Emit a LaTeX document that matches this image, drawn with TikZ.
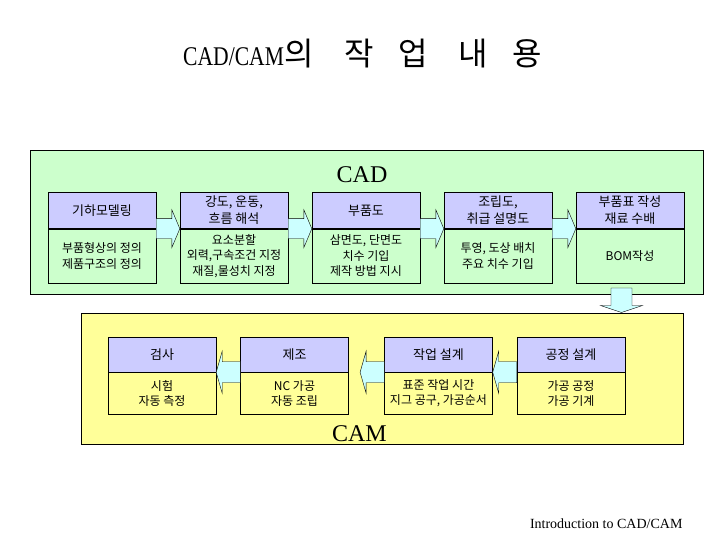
\documentclass[tikz,border=0pt]{standalone}
\usepackage{graphicx}
\usepackage{fontspec}
\setmainfont{Liberation Serif}
\newfontfamily\kr{Noto Sans CJK KR}
\newfontfamily\krtitle[LetterSpace=75]{Noto Sans CJK KR}
\usetikzlibrary{positioning,calc}
\definecolor{cadgreen}{RGB}{204,255,204}
\definecolor{camyellow}{RGB}{255,255,153}
\definecolor{hdrblue}{RGB}{204,204,255}
\definecolor{arrcyan}{RGB}{204,255,255}
\newcommand\blockarrow[5]{% tail, tip, head length, body half, head half
  \coordinate (hb) at ($(#2)!#3!(#1)$);
  \draw[blockarr] ($(#1)!#4!90:(#2)$) -- ($(hb)!#4!90:(#2)$) -- ($(hb)!#5!90:(#2)$) -- (#2)
    -- ($(hb)!#5!-90:(#2)$) -- ($(hb)!#4!-90:(#2)$) -- ($(#1)!#4!-90:(#2)$) -- cycle;
}

\begin{document}
\begin{tikzpicture}[x=1pt, y=-1pt,
  panel/.style = {draw, line width=1pt, anchor=north west},
  hdr/.style = {draw, fill=hdrblue, minimum width=108pt, minimum height=36pt, inner sep=1pt,
    align=center, font=\kr\fontsize{13}{17}\selectfont},
  det/.style = {draw, fill=#1, minimum width=108pt, inner sep=1pt, align=center,
    font=\kr\fontsize{12}{15.5}\selectfont},
  blockarr/.style = {draw, fill=arrcyan, line join=miter}]
  \useasboundingbox (0,0) rectangle (720,540);
  \fill[white] (0,0) rectangle (720,540);

  % title
  \node[anchor=base west, inner sep=0pt] (title) at (183,66)
    {{\fontsize{27}{30}\selectfont\scalebox{0.8}[1]{CAD/CAM}}{\krtitle\fontsize{32}{34}\selectfont 의 작업 내용}};

  % panels
  \node[panel, fill=cadgreen, minimum width=673pt, minimum height=144pt] (cadp) at (30,150) {};
  \node[panel, fill=camyellow, minimum width=602pt, minimum height=131pt] (camp) at (81,313) {};
  \node[anchor=base, font=\fontsize{24}{26}\selectfont] (cadl) at (362,183) {CAD};
  \node[anchor=base, font=\fontsize{24}{26}\selectfont] (caml) at (359.5,441) {CAM};

  % CAD row
  \node[hdr] (cad1) at (102,210.5) {기하모델링};
  \node[hdr] (cad2) at (234,210.5) {강도, 운동,\\흐름 해석};
  \node[hdr] (cad3) at (366,210.5) {부품도};
  \node[hdr] (cad4) at (498,210.5) {조립도,\\취급 설명도};
  \node[hdr] (cad5) at (630,210.5) {부품표 작성\\재료 수배};
  \node[det=cadgreen, minimum height=54pt, below=0pt of cad1] (cad1d) {부품형상의 정의\\제품구조의 정의};
  \node[det=cadgreen, minimum height=54pt, below=0pt of cad2] (cad2d) {요소분할\\외력,구속조건 지정\\재질,물성치 지정};
  \node[det=cadgreen, minimum height=54pt, below=0pt of cad3] (cad3d) {삼면도, 단면도\\치수 기입\\제작 방법 지시};
  \node[det=cadgreen, minimum height=54pt, below=0pt of cad4] (cad4d) {투영, 도상 배치\\주요 치수 기입};
  \node[det=cadgreen, minimum height=54pt, below=0pt of cad5] (cad5d) {BOM작성};

  % CAM row
  \node[hdr, minimum height=35pt] (cam1) at (162,354.5) {검사};
  \node[hdr, minimum height=35pt] (cam2) at (294.5,354.5) {제조};
  \node[hdr, minimum height=35pt] (cam3) at (438.5,354.5) {작업 설계};
  \node[hdr, minimum height=35pt] (cam4) at (571,354.5) {공정 설계};
  \node[det=camyellow, minimum height=42pt, below=0pt of cam1] (cam1d) {시험\\자동 측정};
  \node[det=camyellow, minimum height=42pt, below=0pt of cam2] (cam2d) {NC 가공\\자동 조립};
  \node[det=camyellow, minimum height=42pt, below=0pt of cam3] (cam3d) {표준 작업 시간\\지그 공구, 가공순서};
  \node[det=camyellow, minimum height=42pt, below=0pt of cam4] (cam4d) {가공 공정\\가공 기계};

  % arrows
  \blockarrow{cad1.south east}{cad2.south west}{8pt}{10pt}{19pt}
  \blockarrow{cad2.south east}{cad3.south west}{8pt}{10pt}{19pt}
  \blockarrow{cad3.south east}{cad4.south west}{8pt}{10pt}{19pt}
  \blockarrow{cad4.south east}{cad5.south west}{8pt}{10pt}{19pt}
  \coordinate (dtail) at (621.5,288);
  \coordinate (dtip) at (621.5,312.5);
  \blockarrow{dtail}{dtip}{7pt}{10.5pt}{21pt}
  \blockarrow{cam4.south west}{cam3.south east}{6pt}{10.5pt}{21pt}
  \coordinate (mtip) at ($(cam2.south east)!0.32!(cam3.south west)$);
  \blockarrow{cam3.south west}{mtip}{6pt}{10.5pt}{21pt}
  \blockarrow{cam2.south west}{cam1.south east}{6pt}{10.5pt}{21pt}

  \node[anchor=base east, font=\fontsize{14}{16}\selectfont] (foot) at (686,528) {Introduction to CAD/CAM};
\end{tikzpicture}
\end{document}
